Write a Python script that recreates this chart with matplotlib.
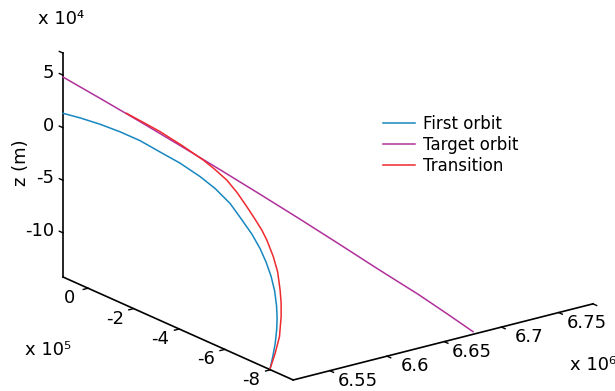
import numpy as np
import matplotlib
matplotlib.use('Agg')
import matplotlib.pyplot as plt
from mpl_toolkits.mplot3d import proj3d

plt.rcParams['font.family'] = ['DejaVu Sans']

# ---- orbit samples (m) ----
first_x = [6.5180e6, 6.5277e6, 6.5384e6, 6.5485e6, 6.5578e6, 6.5657e6, 6.5737e6, 6.5803e6,
           6.5842e6, 6.5863e6, 6.5853e6, 6.5841e6, 6.5816e6, 6.5781e6, 6.5733e6, 6.5673e6,
           6.5600e6, 6.5533e6, 6.5459e6, 6.5371e6, 6.5280e6, 6.5188e6]
first_y = [1.1e5, 8.40e4, 5.02e4, 1.29e4, -2.79e4, -7.63e4, -1.239e5, -1.786e5,
           -2.248e5, -2.802e5, -3.376e5, -3.877e5, -4.355e5, -4.791e5, -5.255e5, -5.711e5,
           -6.162e5, -6.521e5, -6.874e5, -7.252e5, -7.608e5, -7.95e5]
first_z = [1.37e4, 9.2e3, 3.5e3, -2.9e3, -9.9e3, -1.82e4, -2.64e4, -3.57e4,
           -4.36e4, -5.31e4, -6.30e4, -7.15e4, -7.97e4, -8.72e4, -9.51e4, -1.029e5,
           -1.107e5, -1.168e5, -1.228e5, -1.293e5, -1.354e5, -1.413e5]

target_x = [6.5180e6, 6.5322e6, 6.5476e6, 6.5629e6, 6.5783e6, 6.5937e6, 6.6090e6,
            6.6244e6, 6.6397e6, 6.6551e6, 6.6666e6, 6.6762e6]
target_y = [1.1e5, 1.98e4, -7.78e4, -1.753e5, -2.729e5, -3.705e5, -4.680e5,
            -5.656e5, -6.632e5, -7.607e5, -8.339e5, -8.948e5]
target_z = [4.82e4, 3.29e4, 1.60e4, -1.3e3, -1.90e4, -3.71e4, -5.54e4,
            -7.43e4, -9.34e4, -1.120e5, -1.272e5, -1.403e5]

trans_x = [6.5425e6, 6.5503e6, 6.5581e6, 6.5673e6, 6.5757e6, 6.5796e6, 6.5829e6,
           6.5842e6, 6.5842e6, 6.5839e6, 6.5834e6, 6.5820e6, 6.5783e6, 6.5737e6,
           6.5663e6, 6.5604e6, 6.5534e6, 6.5419e6, 6.5302e6, 6.5188e6]
trans_y = [-4.53e4, -7.92e4, -1.141e5, -1.645e5, -2.157e5, -2.477e5, -2.824e5,
           -3.213e5, -3.641e5, -3.996e5, -4.338e5, -4.628e5, -5.10e5, -5.522e5,
           -6.00e5, -6.342e5, -6.694e5, -7.197e5, -7.596e5, -7.95e5]
trans_z = [2.20e4, 1.46e4, 7.0e3, -3.9e3, -1.51e4, -2.21e4, -2.96e4,
           -3.81e4, -4.74e4, -5.51e4, -6.26e4, -6.89e4, -7.92e4, -8.84e4,
           -9.88e4, -1.062e5, -1.139e5, -1.249e5, -1.336e5, -1.413e5]

# axis ranges and ticks
x_lim = (6.518e6, 6.780e6)
y_lim = (-9.0e5, 1.1e5)
z_lim = (-1.42e5, 0.71e5)
x_ticks = [6.55e6, 6.6e6, 6.65e6, 6.7e6, 6.75e6]
x_labels = ['6.55', '6.6', '6.65', '6.7', '6.75']
y_ticks = [0, -2e5, -4e5, -6e5, -8e5]
y_labels = ['0', '-2', '-4', '-6', '-8']
z_ticks = [5e4, 0, -5e4, -10e4]
z_labels = ['5', '0', '-5', '-10']

W, H = 615, 391
fig = plt.figure(figsize=(W / 100, H / 100), dpi=100)
ax = fig.add_axes([0, 0, 1, 1], projection='3d', proj_type='ortho', computed_zorder=False)

ax.plot(first_x, first_y, first_z, color='#1787c0', lw=1.1, label='First orbit')
ax.plot(target_x, target_y, target_z, color='#b0309a', lw=1.1, label='Target orbit')
ax.plot(trans_x, trans_y, trans_z, color='#ee2a2f', lw=1.1, label='Transition')

ax.set_xlim(*x_lim)
ax.set_ylim(*y_lim)
ax.set_zlim(*z_lim)
# extra unlabelled tick marks at the far ends of x and z
ax.set_xticks(x_ticks + [x_lim[1]])
ax.set_yticks(y_ticks)
ax.set_zticks(z_ticks + [z_lim[1]])
ax.xaxis.set_ticklabels([])
ax.yaxis.set_ticklabels([])
ax.zaxis.set_ticklabels([])

ax.view_init(elev=19.7, azim=-127)
ax.set_box_aspect((375.4, 382.6, 237.9))
ax.grid(False)

for axis in (ax.xaxis, ax.yaxis, ax.zaxis):
    axis.pane.fill = False
    axis.pane.set_edgecolor((1, 1, 1, 0))
    axis.line.set_color('black')
    axis.line.set_linewidth(1.2)
    axis._axinfo['tick']['inward_factor'] = 0.2
    axis._axinfo['tick']['outward_factor'] = 0.0
    axis._axinfo['tick']['linewidth'] = {True: 1.0, False: 1.0}
    axis._axinfo['tick']['color'] = 'black'

# z ticks run along y, pointing away from the box
ax.zaxis._get_tickdir = lambda *a, **kw: 1
ax.zaxis._axinfo['tick']['inward_factor'] = 0.0
ax.zaxis._axinfo['tick']['outward_factor'] = 0.2

# place the 3d box in pixel space
def to_px(x, y, z):
    xs, ys, _ = proj3d.proj_transform(x, y, z, ax.get_proj())
    return ax.transData.transform((xs, ys))

side0, c0 = 400.0, np.array([300.0, 200.0])
ax.set_position([(c0[0] - side0 / 2) / W, (c0[1] - side0 / 2) / H, side0 / W, side0 / H])
fig.canvas.draw()
p0 = to_px(x_lim[0], y_lim[1], z_lim[0])
p1 = to_px(x_lim[1], y_lim[0], z_lim[0])
d0 = np.array([63.0, H - 277.0])
d1 = np.array([593.0, H - 303.0])
k = np.linalg.norm(d1 - d0) / np.linalg.norm(p1 - p0)
side = side0 * k
c = d0 - k * (p0 - c0)
ax.set_position([(c[0] - side / 2) / W, (c[1] - side / 2) / H, side / W, side / H])
fig.canvas.draw()

# tick labels next to the projected tick positions
def put_label(pt, dx, dy, s, ha):
    fig.text((pt[0] + dx) / W, (pt[1] + dy) / H, s, ha=ha, va='center', fontsize=13)

for t, s in zip(x_ticks, x_labels):
    put_label(to_px(t, y_lim[0], z_lim[0]), 28, -10, s, 'center')
for t, s in zip(y_ticks, y_labels):
    put_label(to_px(x_lim[0], t, z_lim[0]), -19, -10, s, 'center')
for t, s in zip(z_ticks, z_labels):
    put_label(to_px(x_lim[0], y_lim[1], t), -9, 2, s, 'right')

ax.legend(loc='upper left', bbox_to_anchor=(383 / W, 1 - 115 / H), bbox_transform=fig.transFigure,
          frameon=False, fontsize=12, handlelength=1.9, handletextpad=0.5,
          labelspacing=0.17, borderaxespad=0, borderpad=0)

fig.text(21 / W, 1 - 163 / H, 'z (m)', rotation=90, ha='center', va='center', fontsize=13)
fig.text(38 / W, 1 - 19 / H, 'x 10\u2074', ha='left', va='center', fontsize=13)
fig.text(25 / W, 1 - 350 / H, 'x 10\u2075', ha='left', va='center', fontsize=13)
fig.text(570 / W, 1 - 365 / H, 'x 10\u2076', ha='left', va='center', fontsize=13)

fig.savefig('out.png', dpi=100)
